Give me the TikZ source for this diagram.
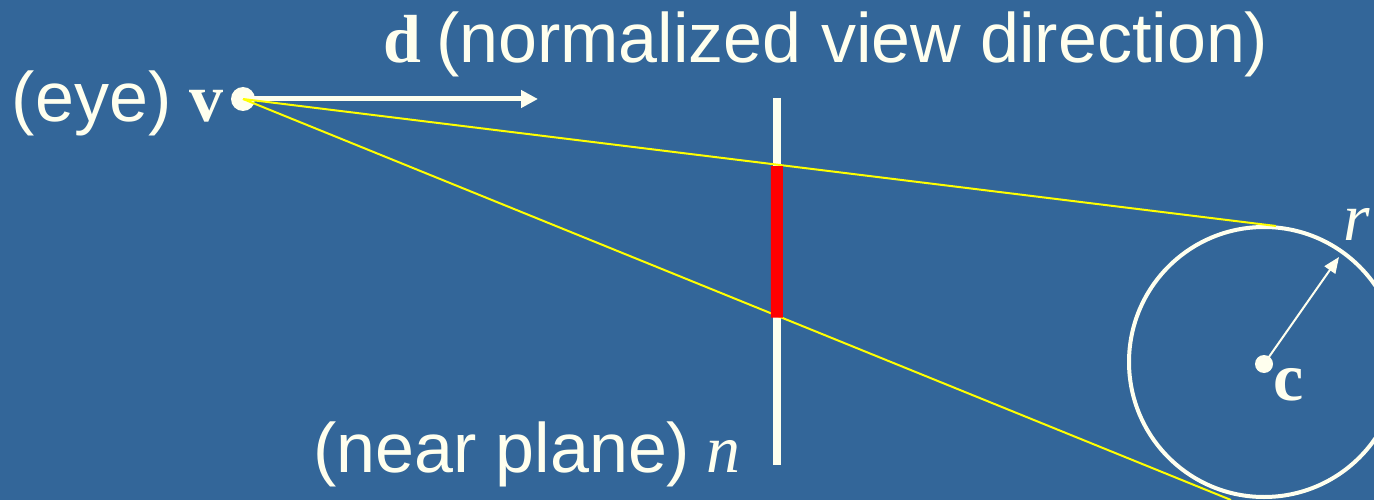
\documentclass[tikz,border=0pt]{standalone}
\usepackage{fontspec}
\setmainfont{Liberation Serif}
\setsansfont{Liberation Sans}
\usetikzlibrary{calc,arrows.meta}
\definecolor{bg}{RGB}{51,102,153}
\definecolor{ink}{RGB}{255,255,238}
\definecolor{ray}{RGB}{255,255,0}
\definecolor{hit}{RGB}{255,0,0}
\begin{document}
\begin{tikzpicture}[x=1pt,y=-1pt,
  lbl/.style={inner sep=0pt, outer sep=0pt, anchor=base west, text=ink, font=\fontsize{70}{82}\selectfont\sffamily},
  sym/.style={inner sep=0pt, outer sep=0pt, anchor=base west, text=ink, font=\fontsize{68}{80}\selectfont\rmfamily\bfseries},
  isym/.style={inner sep=0pt, outer sep=0pt, anchor=base west, text=ink, font=\fontsize{68}{80}\selectfont\rmfamily\itshape},
  dot/.style={circle, fill=ink, inner sep=0pt, outer sep=0pt},
  rayline/.style={draw=ray, line width=2pt},
  plane/.style={draw=ink, line width=8pt},
  hitseg/.style={draw=hit, line width=12pt},
]
\fill[bg] (0,0) rectangle (1374,500);
\useasboundingbox (0,0) rectangle (1374,500);

% sphere
\node[circle, draw=ink, line width=4pt, minimum size=270pt, inner sep=0pt, outer sep=0pt] (sph) at (1264,362) {};
\node[dot, minimum size=18pt] (cen) at (1264,364) {};

% eye
\node[dot, minimum size=24pt] (eye) at (243,99) {};
\coordinate (e) at (243,99);

% near plane
\coordinate (pt) at (777,98);
\coordinate (pb) at (777,465);
\draw[plane] (pt) -- (pb);

% view direction arrow
\coordinate (dend) at (538,99);
\draw[ink, line width=5pt, -{Triangle[length=17pt,width=17pt]}] (e) -- (dend);

% rays grazing the sphere
\coordinate (t1) at (1276,226);
\coordinate (t2) at (1231,500);
\draw[rayline] (e) -- (t1);
\draw[rayline] (e) -- (t2);

% projected extent on the near plane
\coordinate (h1) at (intersection of e--t1 and pt--pb);
\coordinate (h2) at (intersection of e--t2 and pt--pb);
\draw[hitseg] ($(h1)+(0,1.5)$) -- ($(h2)+(0,2)$);

% radius arrow
\coordinate (rtip) at (1339,257);
\draw[ink, line width=2pt, -{Triangle[length=16pt,width=13pt]}] (cen.center) -- (rtip);

% labels
\node[sym] (dlab) at (383,63) {d};
\node[lbl] (dtext) at (436,63) {(normalized view direction)};
\node[lbl] (eyelab) at (12,122) {(eye)};
\node[sym] (vlab) at (189,122) {v};
\node[lbl] (nearlab) at (313,472) {(near plane)};
\node[isym] (nlab) at (706,472) {n};
\node[isym] (rlab) at (1343,240) {r};
\node[sym] (clab) at (1273,400) {c};
\end{tikzpicture}
\end{document}
